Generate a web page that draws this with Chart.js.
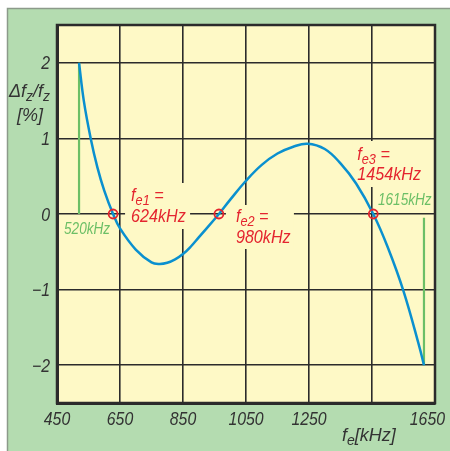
<!DOCTYPE html>
<html>
<head>
<meta charset="utf-8">
<script src="https://cdn.jsdelivr.net/npm/chart.js@4.4.0/dist/chart.umd.min.js"></script>
<style>
  html, body { margin: 0; padding: 0; background: #fff; }
  canvas { display: block; }
</style>
</head>
<body>
<canvas id="chart" width="450" height="451"></canvas>
<script>
// receive frequency fe (kHz) and relative deviation of fz (%)
const curveFreq = [520, 535, 557, 578, 600, 628, 650, 700, 750, 775, 800, 825, 850, 875, 900, 950, 964,
                   1000, 1050, 1100, 1150, 1200, 1245, 1300, 1350, 1400, 1454, 1500, 1550, 1600, 1615];
const curveDev = [2.0, 1.5, 1.0, 0.62, 0.31, 0, -0.19, -0.47, -0.64, -0.66, -0.645, -0.60, -0.53, -0.43, -0.31, -0.07, 0,
                  0.19, 0.44, 0.65, 0.80, 0.89, 0.93, 0.86, 0.67, 0.40, 0, -0.44, -1.02, -1.75, -2.0];

// zero crossings
const zeroFreq = [628, 964, 1454];
const zeroName = ['e1', 'e2', 'e3'];
const zeroText = ['624kHz', '980kHz', '1454kHz'];

// band edges (green markers)
const bandEdges = [520, 1615];
const bandTop = [2, -0.05];
const bandBottom = [0, -2];
const bandText = ['520kHz', '1615kHz'];

const xTicks = [450, 650, 850, 1050, 1250, 1450, 1650];
const xTickLabels = ['450', '650', '850', '1050', '1250', '', '1650'];
const yTicks = [-2, -1, 0, 1, 2];
const yTickLabels = ['\u22122', '\u22121', '0', '1', '2'];

const FONT = "'Liberation Sans', Arial, sans-serif";
const YELLOW = '#fef9c6';
const RED = '#e4252f';
const GREEN = '#6cbf66';
const INK = '#2b2b2b';
const NARROW = 0.85; // squeeze to mimic a condensed face

// parts: [text, isSubscript]; align 'left' | 'center' | 'right'
function drawText(ctx, parts, x, y, size, sx, align) {
  sx = sx || 1;
  const fontOf = sub => 'italic ' + (sub ? Math.round(size * 0.78) : size) + 'px ' + FONT;
  let total = 0;
  parts.forEach(([t, sub]) => { ctx.font = fontOf(sub); total += ctx.measureText(t).width * sx; });
  let cx = x;
  if (align === 'center') cx = x - total / 2;
  if (align === 'right') cx = x - total;
  ctx.textAlign = 'left';
  parts.forEach(([t, sub]) => {
    ctx.font = fontOf(sub);
    const w = ctx.measureText(t).width * sx;
    ctx.save();
    ctx.translate(cx, y + (sub ? size * 0.22 : 0));
    ctx.scale(sx, 1);
    ctx.fillText(t, 0, 0);
    ctx.restore();
    cx += w;
  });
  return total;
}

const deco = {
  id: 'deco',
  beforeDraw(chart) {
    const { ctx, chartArea: a, width, height } = chart;
    ctx.save();
    ctx.fillStyle = '#fff';
    ctx.fillRect(0, 0, width, height);
    ctx.fillStyle = '#b4dcb0';
    ctx.fillRect(7, 8, width - 7, height - 8);
    ctx.strokeStyle = '#8c9a8a';
    ctx.lineWidth = 1.5;
    ctx.beginPath();
    ctx.moveTo(7.5, height);
    ctx.lineTo(7.5, 8.5);
    ctx.lineTo(width, 8.5);
    ctx.stroke();
    ctx.fillStyle = YELLOW;
    ctx.fillRect(a.left, a.top, a.right - a.left, a.bottom - a.top);
    ctx.restore();
  },
  beforeDatasetsDraw(chart) {
    // labels sit on a blank patch that hides the grid behind them
    const { ctx, scales: { x, y } } = chart;
    const y0 = y.getPixelForValue(0);
    const boxes = [[12, -31, 65, 46], [7, -9, 68, 44], [-21, -73, 73, 46]];
    ctx.save();
    ctx.fillStyle = YELLOW;
    zeroFreq.forEach((f, i) => {
      const px = x.getPixelForValue(f);
      const b = boxes[i];
      ctx.fillRect(px + b[0], y0 + b[1], b[2], b[3]);
    });
    ctx.restore();
  },
  afterDatasetsDraw(chart) {
    const { ctx, chartArea: a, scales: { x, y }, width } = chart;
    const y0 = y.getPixelForValue(0);
    ctx.save();
    ctx.textBaseline = 'alphabetic';

    // root labels
    ctx.fillStyle = RED;
    const offs = [[18, -13, 8], [17, 8, 29], [-16, -54, -34]];
    zeroFreq.forEach((f, i) => {
      const px = x.getPixelForValue(f);
      const o = offs[i];
      drawText(ctx, [['f'], [zeroName[i], 1], [' =']], px + o[0], y0 + o[1], 19, NARROW);
      drawText(ctx, [[zeroText[i]]], px + o[0], y0 + o[2], 19, NARROW);
    });

    // band edge labels
    ctx.fillStyle = GREEN;
    drawText(ctx, [[bandText[0]]], x.getPixelForValue(bandEdges[0]) - 15, y0 + 20, 16, NARROW);
    drawText(ctx, [[bandText[1]]], x.getPixelForValue(bandEdges[1]) - 46, y0 - 9, 16, NARROW);

    // plot frame
    ctx.strokeStyle = INK;
    ctx.lineWidth = 2.5;
    ctx.strokeRect(a.left, a.top, a.right - a.left, a.bottom - a.top);

    // tick labels, kept inside the canvas
    ctx.fillStyle = '#333';
    xTicks.forEach((v, i) => {
      ctx.font = 'italic 18px ' + FONT;
      const w = ctx.measureText(xTickLabels[i]).width * 0.88;
      const px = Math.min(x.getPixelForValue(v), width - w / 2 - 5);
      drawText(ctx, [[xTickLabels[i]]], px, a.bottom + 22, 18, 0.88, 'center');
    });
    yTicks.forEach((v, i) => {
      drawText(ctx, [[yTickLabels[i]]], a.left - 7, y.getPixelForValue(v) + 6.5, 18, 0.88, 'right');
    });

    // axis titles
    drawText(ctx, [['\u0394f'], ['z', 1], ['/f'], ['z', 1]], 9, a.top + 72, 18);
    drawText(ctx, [['[%]']], 30, a.top + 96, 18, 1, 'center');
    drawText(ctx, [['f'], ['e', 1], ['[kHz]']], 342, a.bottom + 38, 18);
    ctx.restore();
  }
};

new Chart(document.getElementById('chart'), {
  type: 'scatter',
  data: {
    datasets: [
      {
        data: zeroFreq.map(f => ({ x: f, y: 0 })),
        pointRadius: 4.5,
        pointBorderColor: RED,
        pointBorderWidth: 1.8,
        pointBackgroundColor: 'rgba(0,0,0,0)'
      },
      {
        data: curveFreq.map((f, i) => ({ x: f, y: curveDev[i] })),
        showLine: true,
        borderColor: '#0a90cf',
        borderWidth: 2.5,
        pointRadius: 0,
        tension: 0.4
      },
      {
        data: [{ x: bandEdges[0], y: bandTop[0] }, { x: bandEdges[0], y: bandBottom[0] }],
        showLine: true,
        borderColor: GREEN,
        borderWidth: 2.2,
        pointRadius: 0
      },
      {
        data: [{ x: bandEdges[1], y: bandTop[1] }, { x: bandEdges[1], y: bandBottom[1] }],
        showLine: true,
        borderColor: GREEN,
        borderWidth: 2.2,
        pointRadius: 0
      }
    ]
  },
  options: {
    responsive: false,
    animation: false,
    devicePixelRatio: 1,
    layout: { padding: { top: 25, right: 15, left: 0, bottom: 0 } },
    plugins: { legend: { display: false }, tooltip: { enabled: false } },
    scales: {
      x: {
        type: 'linear',
        min: 450,
        max: 1650,
        afterBuildTicks: s => { s.ticks = xTicks.map(v => ({ value: v })); },
        afterFit: s => { s.height = 48; },
        ticks: { display: false },
        grid: { color: INK, lineWidth: 1.6, drawTicks: false },
        border: { color: INK, width: 3 }
      },
      y: {
        type: 'linear',
        min: -2.5,
        max: 2.5,
        afterBuildTicks: s => { s.ticks = yTicks.map(v => ({ value: v })); },
        afterFit: s => { s.width = 57; },
        ticks: { display: false },
        grid: { color: INK, lineWidth: 1.6, drawTicks: false },
        border: { color: INK, width: 3 }
      }
    }
  },
  plugins: [deco]
});
</script>
</body>
</html>
